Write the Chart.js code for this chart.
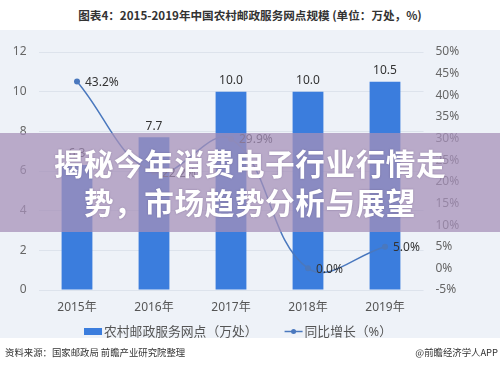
<!DOCTYPE html>
<html>
<head>
<meta charset="utf-8">
<script src="https://cdn.jsdelivr.net/npm/chart.js@4/dist/chart.umd.min.js"></script>
<style>
  html, body { margin: 0; padding: 0; background: #ffffff; }
  body { width: 500px; height: 367px; position: relative; overflow: hidden;
         font-family: "Noto Sans CJK SC", "Noto Sans", sans-serif; }
  #title { position: absolute; left: 0; top: 5px; width: 500px; text-align: center;
           font-size: 11.6px; font-weight: bold; color: #333; line-height: 20px; }
  #panel { position: absolute; left: 0; top: 30px; width: 500px; height: 308px; background: #eef2f8; }
  #wrap { position: absolute; left: 0; top: 0; width: 500px; height: 367px; }
  #banner { position: absolute; left: 0; top: 133px; width: 500px; height: 99px;
            background: rgba(166,144,185,0.74); z-index: 5; }
  #banner div { position: absolute; left: 0; width: 500px; text-align: center; color: #fff;
                font-weight: bold; font-size: 29.6px; line-height: 36px; letter-spacing: 0.6px;
                text-shadow: 0 0 2px rgba(80,60,100,0.4); }
  #src { position: absolute; left: 5px; top: 344px; font-size: 9.4px; color: #333; line-height: 16px; }
  #app { position: absolute; right: 2px; top: 344px; font-size: 9.4px; color: #333; line-height: 16px; }
</style>
</head>
<body>
<div id="title">图表4：2015-2019年中国农村邮政服务网点规模 (单位：万处，%)</div>
<div id="panel"></div>
<div id="wrap"><canvas id="c"></canvas></div>
<div id="banner">
  <div style="top:12px">揭秘今年消费电子行业行情走</div>
  <div style="top:51px">势，市场趋势分析与展望</div>
</div>
<div id="src">资料来源：国家邮政局 前瞻产业研究院整理</div>
<div id="app">@前瞻经济学人APP</div>
<script>
const categories = ["2015年", "2016年", "2017年", "2018年", "2019年"];
const outlets = [6.3, 7.7, 10.0, 10.0, 10.5];
const growth = [43.2, 22.2, 29.9, 0.0, 5.0];
const leftTicks = [0, 2, 4, 6, 8, 10, 12];
const rightTicks = [-5, 0, 5, 10, 15, 20, 25, 30, 35, 40, 45, 50];
const barLabel = "农村邮政服务网点（万处）";
const lineLabel = "同比增长（%）";

const BAR_COLOR = "#3b7ddd";
const LINE_COLOR = "#4a78be";
const FONT = '"Noto Sans", "Noto Sans CJK SC", sans-serif';

const labelPlugin = {
  id: "valueLabels",
  afterDatasetsDraw(chart) {
    const ctx = chart.ctx;
    ctx.save();
    ctx.font = "12px " + FONT;
    ctx.fillStyle = "#333";
    chart.getDatasetMeta(0).data.forEach((el, i) => {
      ctx.textAlign = "center"; ctx.textBaseline = "bottom";
      ctx.fillText(outlets[i].toFixed(1), el.x, el.y - 5);
    });
    chart.getDatasetMeta(1).data.forEach((el, i) => {
      ctx.textAlign = "left"; ctx.textBaseline = "middle";
      ctx.fillText(growth[i].toFixed(1) + "%", el.x + 8, el.y + 1);
    });
    ctx.restore();
  }
};

// legend drawn on the chart canvas, below the x axis
const legendPlugin = {
  id: "bottomLegend",
  afterDraw(chart) {
    const ctx = chart.ctx;
    const ds = chart.data.datasets;
    const y = chart.chartArea.bottom + 41;
    ctx.save();
    ctx.font = "12.8px " + FONT;
    ctx.fillStyle = "#555";
    ctx.textBaseline = "middle";
    ctx.textAlign = "left";
    const w0 = ctx.measureText(ds[0].label).width;
    const w1 = ctx.measureText(ds[1].label).width;
    const total = 18 + 2 + w0 + 27 + 18 + 2 + w1;
    let x = (chart.chartArea.left + chart.chartArea.right) / 2 - total / 2 + 7;
    ctx.fillStyle = ds[0].backgroundColor;
    ctx.fillRect(x, y - 3, 18, 7);
    ctx.fillStyle = "#555";
    ctx.fillText(ds[0].label, x + 20, y + 1);
    x += 20 + w0 + 27;
    ctx.strokeStyle = ds[1].borderColor; ctx.lineWidth = 1.5;
    ctx.beginPath(); ctx.moveTo(x, y + 0.5); ctx.lineTo(x + 18, y + 0.5); ctx.stroke();
    ctx.fillStyle = ds[1].borderColor;
    ctx.beginPath(); ctx.arc(x + 9, y + 0.5, 2.5, 0, Math.PI * 2); ctx.fill();
    ctx.fillStyle = "#555";
    ctx.fillText(ds[1].label, x + 20, y + 1);
    ctx.restore();
  }
};

new Chart(document.getElementById("c"), {
  data: {
    labels: categories,
    datasets: [
      {
        type: "bar", label: barLabel, data: outlets, yAxisID: "y",
        backgroundColor: BAR_COLOR, barPercentage: 0.8, categoryPercentage: 0.5, order: 2
      },
      {
        type: "line", label: lineLabel, data: growth, yAxisID: "y1",
        borderColor: LINE_COLOR, backgroundColor: LINE_COLOR, borderWidth: 1.5,
        pointRadius: 3, pointBackgroundColor: LINE_COLOR, pointBorderWidth: 0,
        tension: 0.4, order: 1
      }
    ]
  },
  options: {
    responsive: true, maintainAspectRatio: false, animation: false,
    layout: { padding: { top: 52, left: 0, right: 0, bottom: 47 } },
    plugins: {
      tooltip: { enabled: false },
      legend: { display: false }
    },
    scales: {
      x: {
        grid: { display: false, drawTicks: false },
        border: { display: false },
        afterFit(scale) { scale.height = 30; },
        ticks: { color: "#555", font: { size: 12, family: FONT }, padding: 10 }
      },
      y: {
        position: "left", min: 0, max: 12,
        afterBuildTicks(scale) { scale.ticks = leftTicks.map(v => ({ value: v })); },
        afterFit(scale) { scale.width = 38.5; },
        grid: { color: "#dde3ec", lineWidth: 1, drawTicks: false },
        border: { display: false },
        ticks: { color: "#666", font: { size: 12, family: FONT }, padding: 12 }
      },
      y1: {
        position: "right", min: -5, max: 50,
        afterBuildTicks(scale) { scale.ticks = rightTicks.map(v => ({ value: v })); },
        afterFit(scale) { scale.width = 76.5; },
        grid: { display: false, drawTicks: false },
        border: { display: false },
        ticks: { color: "#666", font: { size: 12, family: FONT }, padding: 12,
                 callback: v => v + "%" }
      }
    }
  },
  plugins: [labelPlugin, legendPlugin]
});
</script>
</body>
</html>
